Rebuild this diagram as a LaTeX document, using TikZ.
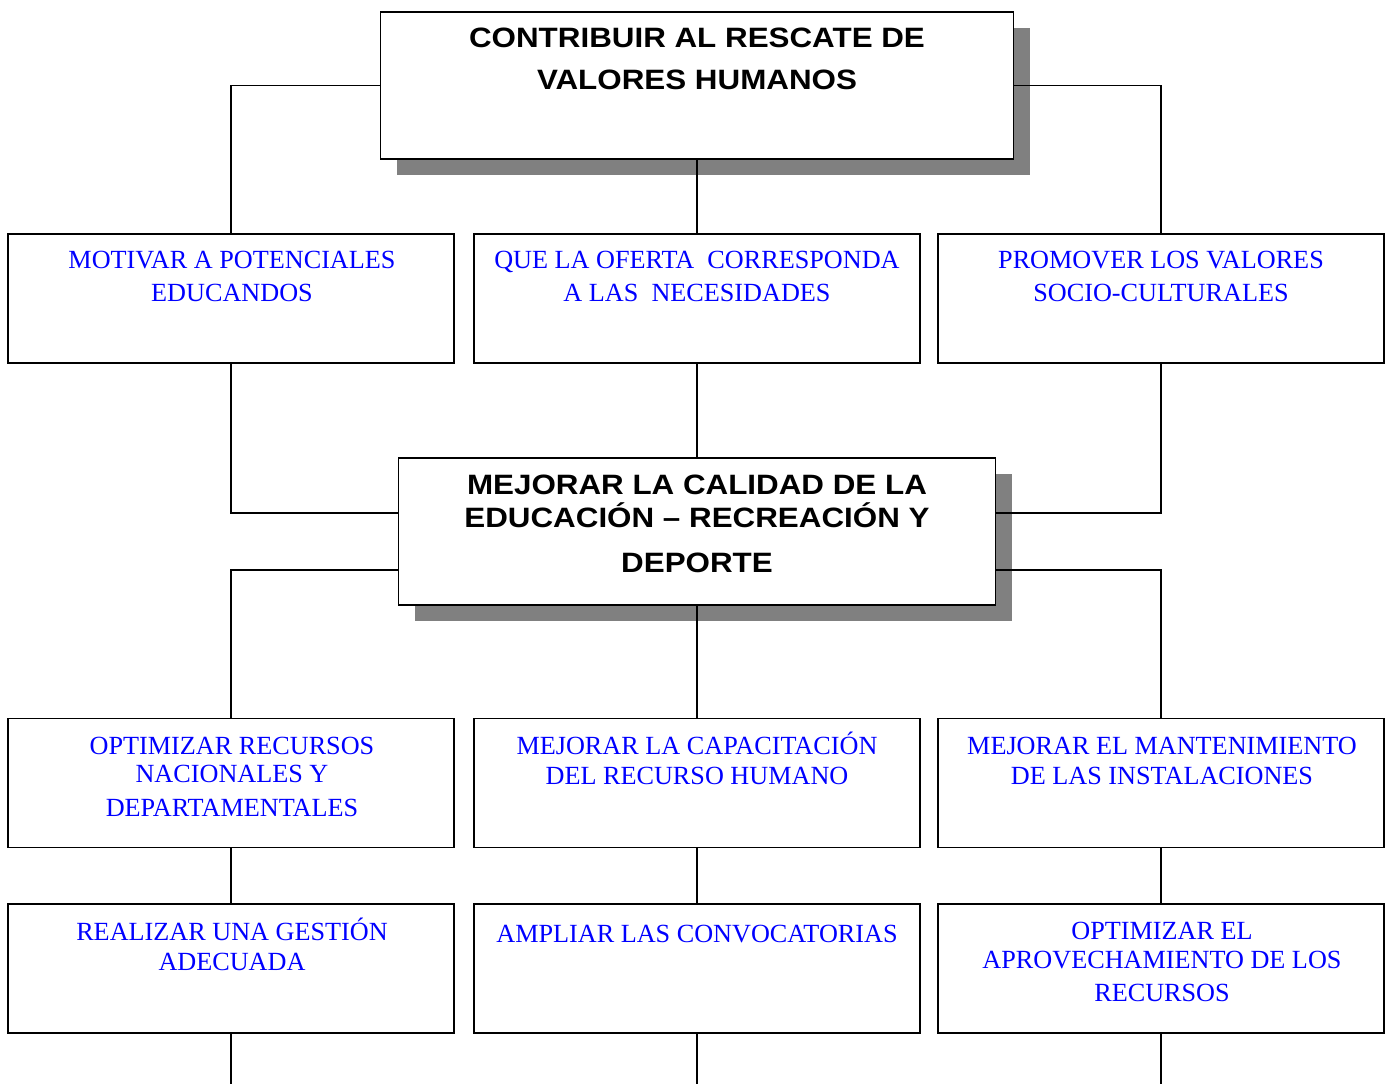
\documentclass[tikz,border=0pt]{standalone}
\usepackage{fontspec}
\setmainfont{Liberation Serif}
\newfontfamily\titlefont{Liberation Sans}[FakeStretch=1.12]
\usetikzlibrary{shadows}
\begin{document}
\begin{tikzpicture}[x=0.5pt,y=-0.5pt,
  box/.style={draw,line width=0.9pt,fill=white,inner sep=0pt,minimum width=223pt,minimum height=64.5pt},
  bigbox/.style={box,minimum height=73.5pt,drop shadow={shadow xshift=8pt,shadow yshift=-8pt,fill=black!50,opacity=1}},
  btxt/.style={anchor=north,inner sep=0pt,align=center,text=blue,font=\fontsize{13.1}{14}\selectfont},
  ttxt/.style={anchor=north,inner sep=0pt,align=center,font=\titlefont\bfseries\fontsize{14}{21}\selectfont},
  conn/.style={line width=0.8pt}]
\useasboundingbox (0,0) rectangle (1391,1084);

% main boxes
\node[bigbox,minimum width=316.5pt] (top) at (697,85.5) {};
\node[ttxt] (toptxt) at (697,17) {\rule{0pt}{15pt}CONTRIBUIR AL RESCATE DE\\VALORES HUMANOS};

\node[bigbox,minimum width=298.5pt] (mid) at (697,531.5) {};
\node[ttxt,font=\titlefont\bfseries\fontsize{14}{16.5}\selectfont] (midtxt) at (697,464)
  {\rule{0pt}{15pt}MEJORAR LA CALIDAD DE LA\\EDUCACIÓN – RECREACIÓN Y\\[6pt]DEPORTE};

% row 1
\node[box] (r1a) at (231,298.5) {};
\node[box] (r1b) at (697,298.5) {};
\node[box] (r1c) at (1161,298.5) {};
\node[btxt] (t1a) at (232,242) {\rule{0pt}{13pt}MOTIVAR A POTENCIALES\\[2.5pt]EDUCANDOS};
\node[btxt] (t1b) at (697,242) {\rule{0pt}{13pt}QUE LA OFERTA\ \ CORRESPONDA\\[2.5pt]A LAS\ \ NECESIDADES};
\node[btxt] (t1c) at (1161,242) {\rule{0pt}{13pt}PROMOVER LOS VALORES\\[2.5pt]SOCIO-CULTURALES};

% row 3
\node[box] (r3a) at (231,783) {};
\node[box] (r3b) at (697,783) {};
\node[box] (r3c) at (1161,783) {};
\node[btxt] (t3a) at (232,728) {\rule{0pt}{13pt}OPTIMIZAR RECURSOS\\NACIONALES Y\\[3pt]DEPARTAMENTALES};
\node[btxt] (t3b) at (697,728) {\rule{0pt}{13pt}MEJORAR LA CAPACITACIÓN\\[1pt]DEL RECURSO HUMANO};
\node[btxt] (t3c) at (1162,728) {\rule{0pt}{13pt}MEJORAR EL MANTENIMIENTO\\[1pt]DE LAS INSTALACIONES};

% row 4
\node[box] (r4a) at (231,968.5) {};
\node[box] (r4b) at (697,968.5) {};
\node[box] (r4c) at (1161,968.5) {};
\node[btxt] (t4a) at (232,914) {\rule{0pt}{13pt}REALIZAR UNA GESTIÓN\\[1pt]ADECUADA};
\node[btxt] (t4b) at (697,916) {\rule{0pt}{13pt}AMPLIAR LAS CONVOCATORIAS};
\node[btxt] (t4c) at (1162,913) {\rule{0pt}{13pt}OPTIMIZAR EL\\[0.5pt]APROVECHAMIENTO DE LOS\\[2.5pt]RECURSOS};

\coordinate (e1) at (231,1084);
\coordinate (e2) at (697,1084);
\coordinate (e3) at (1161,1084);

% connectors
\draw[conn] (top.west) -| (r1a.north);
\draw[conn] (top.east) -| (r1c.north);
\draw[conn] (top.south) -- (r1b.north);
\draw[conn] (r1a.south) |- ([yshift=9.25pt]mid.west);
\draw[conn] (r1c.south) |- ([yshift=9.25pt]mid.east);
\draw[conn] (r1b.south) -- (mid.north);
\draw[conn] ([yshift=-19.25pt]mid.west) -| (r3a.north);
\draw[conn] ([yshift=-19.25pt]mid.east) -| (r3c.north);
\draw[conn] (mid.south) -- (r3b.north);
\draw[conn] (r3a.south) -- (r4a.north);
\draw[conn] (r3b.south) -- (r4b.north);
\draw[conn] (r3c.south) -- (r4c.north);
\draw[conn] (r4a.south) -- (e1);
\draw[conn] (r4b.south) -- (e2);
\draw[conn] (r4c.south) -- (e3);
\end{tikzpicture}
\end{document}
